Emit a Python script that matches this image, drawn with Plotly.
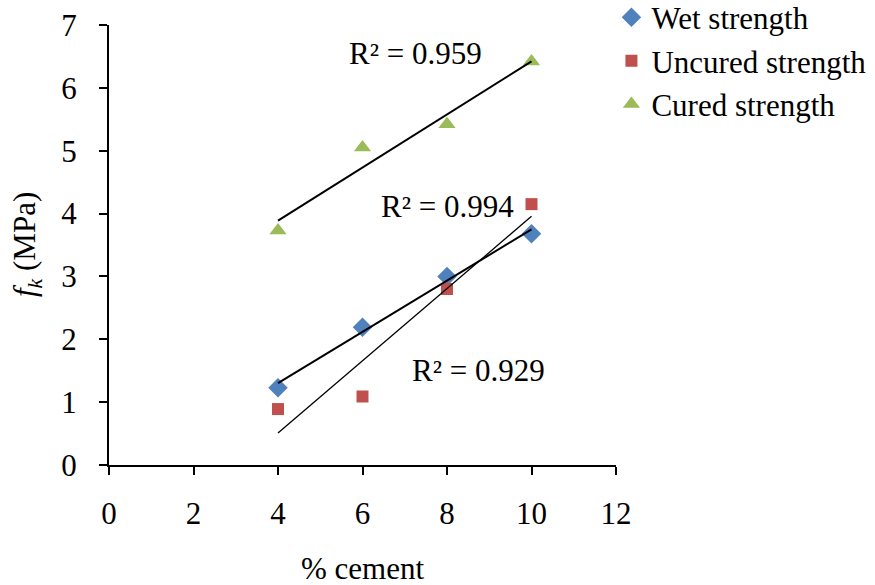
import numpy as np
import plotly.graph_objects as go

# % cement in the mix
cement = [4, 6, 8, 10]

# compressive strength f_k (MPa)
wet_strength = [1.23, 2.19, 3.00, 3.68]
uncured_strength = [0.89, 1.09, 2.80, 4.15]
cured_strength = [3.73, 5.05, 5.42, 6.42]

x_ticks = [0, 2, 4, 6, 8, 10, 12]
y_ticks = [0, 1, 2, 3, 4, 5, 6, 7]

FONT = "Liberation Serif"
FS = 31
BLUE = "#4F81BD"
RED = "#C0504D"
GREEN = "#9BBB59"


def linear_fit(x, y):
    x = np.asarray(x, float)
    y = np.asarray(y, float)
    slope, intercept = np.polyfit(x, y, 1)
    pred = slope * x + intercept
    r2 = 1 - np.sum((y - pred) ** 2) / np.sum((y - y.mean()) ** 2)
    return slope, intercept, r2


fig = go.Figure()

series = [
    ("Wet strength", wet_strength, BLUE, "diamond", 15),
    ("Uncured strength", uncured_strength, RED, "square", 12),
    ("Cured strength", cured_strength, GREEN, "triangle-up", 15),
]

for name, vals, color, symbol, size in series:
    fig.add_trace(go.Scatter(
        x=cement, y=vals, mode="markers", name=name,
        marker=dict(color=color, symbol=symbol, size=size, line=dict(width=0)),
    ))

# linear trendlines with their R² values
fits = {}
line_widths = {"Wet strength": 2, "Uncured strength": 1.3, "Cured strength": 2}
for name, vals, *_ in series:
    slope, intercept, r2 = linear_fit(cement, vals)
    fits[name] = r2
    xs = [cement[0], cement[-1]]
    fig.add_trace(go.Scatter(
        x=xs, y=[slope * v + intercept for v in xs], mode="lines",
        line=dict(color="black", width=line_widths[name]),
        showlegend=False, hoverinfo="skip",
    ))

label_pos = {
    "Cured strength": (7.25, 6.55),
    "Wet strength": (8.0, 4.11),
    "Uncured strength": (8.75, 1.5),
}
for name, (lx, ly) in label_pos.items():
    fig.add_annotation(
        x=lx, y=ly, xref="x", yref="y", showarrow=False,
        xanchor="center", yanchor="middle",
        text=f"R² = {fits[name]:.3f}",
        font=dict(family=FONT, size=FS, color="black"),
    )

# axis titles
fig.add_annotation(
    x=0.5, y=0, xref="paper", yref="paper", yshift=-103, showarrow=False,
    xanchor="center", yanchor="middle",
    text="% cement", font=dict(family=FONT, size=FS, color="black"),
)
fig.add_annotation(
    x=0, y=0.5, xref="paper", yref="paper", xshift=-82, showarrow=False,
    xanchor="center", yanchor="middle",
    textangle=-90, text="<i>f</i><sub><i>k</i></sub>\u00a0(MPa)",
    font=dict(family=FONT, size=FS, color="black"),
)

axis_common = dict(
    showgrid=False, zeroline=False, showline=True, linecolor="black", linewidth=2,
    ticks="outside", ticklen=8, tickwidth=2, tickcolor="black",
    tickfont=dict(family=FONT, size=FS, color="black"),
)

fig.update_xaxes(range=[0, 12], tickvals=x_ticks, ticklabelstandoff=12, **axis_common)
fig.update_yaxes(range=[0, 7], tickvals=y_ticks, ticklabelstandoff=16, **axis_common)

fig.update_layout(
    width=875, height=585,
    margin=dict(l=108.5, r=258.5, t=24.5, b=120, autoexpand=False),
    paper_bgcolor="white", plot_bgcolor="white",
    font=dict(family=FONT, size=FS, color="black"),
    legend=dict(
        x=0.991, y=1.078, xanchor="left", yanchor="top",
        font=dict(family=FONT, size=FS, color="black"),
        bgcolor="rgba(0,0,0,0)", itemwidth=30, tracegroupgap=2,
    ),
    showlegend=True,
)

fig.write_html("out.html")
